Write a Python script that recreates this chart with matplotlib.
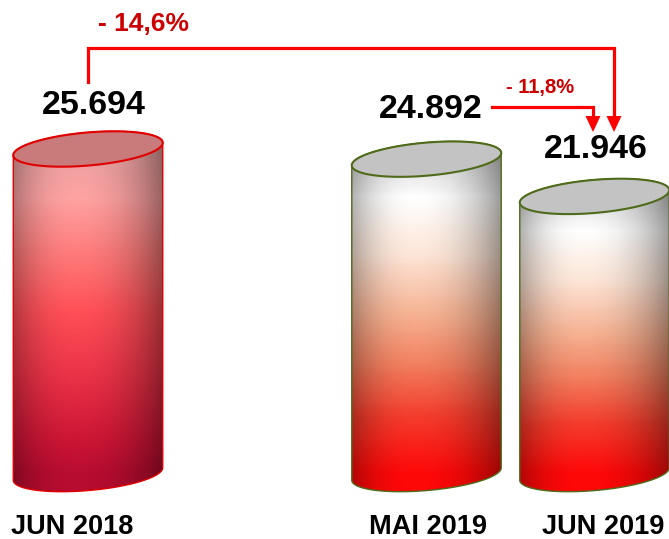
import numpy as np
import matplotlib.pyplot as plt
from matplotlib.patches import Polygon
from matplotlib.colors import LinearSegmentedColormap

plt.rcParams['font.family'] = ['Liberation Sans', 'DejaVu Sans']

# values
categories = ["JUN 2018", "MAI 2019", "JUN 2019"]
values = [25694, 24892, 21946]
value_labels = ["25.694", "24.892", "21.946"]
change_labels = ["- 14,6%", "- 11,8%"]

# layout (pixels, figure is 669x539)
W, H = 669, 539
xpos = [88, 426.5, 594.5]
base_px = 474            # pixel row of the zero line
px_per_unit = 325 / 25694
half_w, half_h, tilt = 75, 16.5, np.deg2rad(5)

fig = plt.figure(figsize=(W / 100, H / 100), dpi=100)
ax = fig.add_axes([0, 0, 1, 1])
ax.set_xlim(0, W)
ax.set_ylim(-(H - base_px) / px_per_unit, base_px / px_per_unit)
ax.axis('off')

# overlay in pixel coords for the annotations
ov = fig.add_axes([0, 0, 1, 1])
ov.set_xlim(0, W)
ov.set_ylim(H, 0)
ov.axis('off')

red_cmap = LinearSegmentedColormap.from_list("r", [
    (0.0, "#eaa2a2"), (0.15, "#ffa2a2"), (0.35, "#ff7474"), (0.5, "#ff4f57"),
    (0.7, "#ea3247"), (0.9, "#cc1535"), (1.0, "#b80c30")])
peach_cmap = LinearSegmentedColormap.from_list("p", [
    (0.0, "#dcdcdc"), (0.12, "#ffffff"), (0.3, "#fde6d8"), (0.5, "#f6b090"),
    (0.65, "#f28060"), (0.82, "#f43c2c"), (1.0, "#ff0808")])

styles = [
    dict(cmap=red_cmap, top="#c97a7a", edge="#e00000"),
    dict(cmap=peach_cmap, top="#c3c3c3", edge="#4f6b1a"),
    dict(cmap=peach_cmap, top="#c3c3c3", edge="#4f6b1a"),
]


def ellipse_pts(cx, vy, t):
    dx = half_w * np.cos(t) * np.cos(tilt) - half_h * np.sin(t) * np.sin(tilt)
    dy = half_w * np.cos(t) * np.sin(tilt) + half_h * np.sin(t) * np.cos(tilt)
    return cx + dx, vy + dy / px_per_unit


t = np.linspace(0, 2 * np.pi, 721)
# parameter of the right / left extreme points of the tilted ellipse
t_r = np.arctan(-half_h * np.tan(tilt) / half_w)
t_l = t_r + np.pi

for x, v, st in zip(xpos, values, styles):
    # body outline: upper arc of the top ellipse + lower arc of the base ellipse
    up = np.linspace(t_r, t_l, 200)
    lo = np.linspace(t_l, t_r + 2 * np.pi, 200)
    ux, uy = ellipse_pts(x, v, up)
    lx, ly = ellipse_pts(x, 0, lo)
    body = Polygon(np.column_stack([np.r_[ux, lx], np.r_[uy, ly]]),
                   closed=True, facecolor='none', edgecolor=st["edge"],
                   lw=1.0, zorder=3)

    # gradient image clipped to the body
    ytop = v + 2 * half_h / px_per_unit
    ybot = -2 * half_h / px_per_unit
    ny, nx = 300, 150
    yy = np.linspace(ytop, ybot, ny)
    frac = np.clip((v - yy) / v, 0, 1)
    col = st["cmap"](frac)[:, :3]
    u = np.linspace(0, 1, nx)
    shade = np.where(u < 0.42, 1 - 0.32 * ((0.42 - u) / 0.42) ** 2.2,
                     1 - 0.42 * ((u - 0.42) / 0.58) ** 2.2)
    img = col[:, None, :] * shade[None, :, None]
    im = ax.imshow(img, extent=[x - half_w - 2, x + half_w + 2, ybot, ytop],
                   aspect='auto', zorder=2, interpolation='bilinear')
    ax.add_patch(body)
    im.set_clip_path(body)

    # top face
    ex, ey = ellipse_pts(x, v, t)
    ax.add_patch(Polygon(np.column_stack([ex, ey]), closed=True,
                         facecolor=st["top"], edgecolor=st["edge"], lw=1.5,
                         zorder=4))

# value labels
label_px = [(94, 105), (431, 110), (596, 150)]
for (lx_, ly_), txt in zip(label_px, value_labels):
    ov.text(lx_, ly_, txt, ha='center', va='center', fontsize=24.5,
            fontweight='bold', color='black')

# category labels
cat_px = [72, 428, 603]
for cx_, txt in zip(cat_px, categories):
    ov.text(cx_, 527, txt, ha='center', va='center', fontsize=19.5,
            fontweight='bold', color='black')

# change arrows
arrow_col = "#ff0000"
lw = 2.3


def head(x_tip, y_tip):
    ov.add_patch(Polygon([(x_tip - 7.5, y_tip - 16), (x_tip + 7.5, y_tip - 16),
                          (x_tip, y_tip)], closed=True, facecolor=arrow_col,
                         edgecolor='none', zorder=5))


ov.plot([88, 88, 614, 614], [82, 48, 48, 118], color=arrow_col, lw=lw,
        solid_joinstyle='miter', zorder=5)
head(614, 132)
ov.plot([492, 593, 593], [107, 107, 118], color=arrow_col, lw=lw,
        solid_joinstyle='miter', zorder=5)
head(593, 132)

ov.text(143, 24, change_labels[0], ha='center', va='center', fontsize=19,
        fontweight='bold', color="#cc0000")
ov.text(540, 87, change_labels[1], ha='center', va='center', fontsize=14.5,
        fontweight='bold', color="#cc0000")

fig.savefig("out.png", dpi=100, facecolor='white')
